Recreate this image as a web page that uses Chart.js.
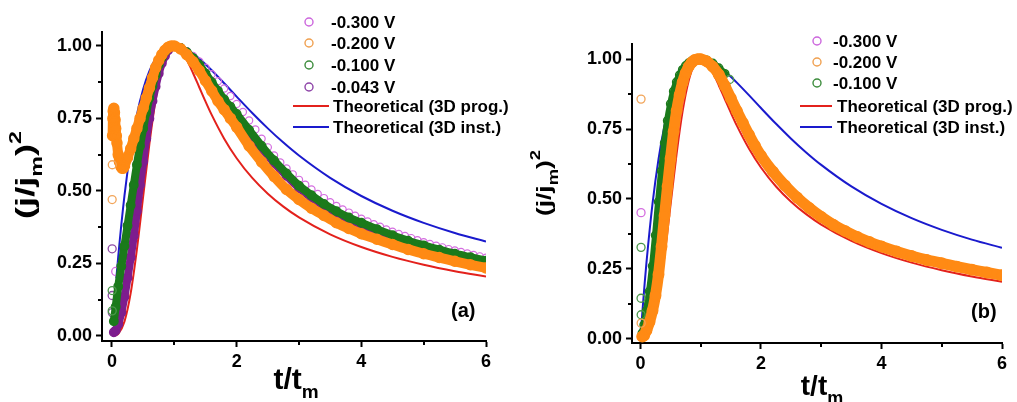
<!DOCTYPE html>
<html>
<head>
<meta charset="utf-8">
<script src="https://cdn.jsdelivr.net/npm/chart.js@4.4.1/dist/chart.umd.min.js"></script>
<style>
html,body{margin:0;padding:0;background:#fff;}
#wrap{position:relative;width:1017px;height:402px;overflow:hidden;}
#wrap canvas{position:absolute;left:0;top:0;}
</style>
</head>
<body>
<div id="wrap"><canvas id="ca" width="1017" height="402"></canvas><canvas id="cb" width="1017" height="402"></canvas></div>
<script>
// ---------------- DATA ----------------
const xTicks = [0, 2, 4, 6];
const xMinorTicks = [1, 3, 5];
const yTicks = [0, 0.25, 0.5, 0.75, 1.0];
const yMinorTicks = [0.125, 0.375, 0.625, 0.875];

const legendA = ['-0.300 V', '-0.200 V', '-0.100 V', '-0.043 V'];
const legendB = ['-0.300 V', '-0.200 V', '-0.100 V'];
const theoryLabels = ['Theoretical (3D prog.)', 'Theoretical (3D inst.)'];

// common t grids
const tRise = [0.03,0.06,0.1,0.15,0.2,0.25,0.3,0.35,0.4,0.45,0.5,0.55,0.6,0.65,0.7,0.75,0.8,0.85,0.9,0.95,1.0];
const tTail = [1.1,1.2,1.3,1.4,1.5,1.6,1.7,1.8,1.9,2.0,2.2,2.4,2.6,2.8,3.0,3.2,3.4,3.6,3.8,4.0,4.25,4.5,4.75,5.0,5.25,5.5,5.75,6.0];
const tTailFine = [1.1,1.2,1.3,1.4,1.5,1.6,1.7,1.8,1.9,2.0,2.1,2.2,2.3,2.4,2.5,2.6,2.7,2.8,2.9,3.0,3.1,3.2,3.3,3.4,3.5,3.6,3.7,3.8,3.9,4.0,4.1,4.2,4.3,4.4,4.5,4.6,4.7,4.8,4.9,5.0,5.1,5.2,5.3,5.4,5.5,5.6,5.7,5.8,5.9,6.0];

// theoretical curves
const tTheory  = [0,0.02,0.04,0.07,0.1,0.2,0.3,0.4,0.5,0.6,0.7,0.8,0.9,1.0,1.1,1.2,1.3,1.4,1.5,1.6,1.8,2.0,2.25,2.5,2.75,3.0,3.5,4.0,4.5,5.0,5.5,6.0];
const progTheory = [0,0.0001,0.0004,0.0023,0.0065,0.0488,0.147,0.298,0.4797,0.6608,0.8137,0.922,0.9821,1.0,0.9861,0.9518,0.9066,0.8574,0.8084,0.762,0.6801,0.6126,0.5446,0.4902,0.4456,0.4085,0.3501,0.3064,0.2723,0.2451,0.2228,0.2042];
const instTheory = [null,0.0602,0.1174,0.198,0.2724,0.4824,0.6423,0.7624,0.8503,0.9129,0.9554,0.9819,0.9959,1.0,0.9964,0.9872,0.9735,0.9564,0.9371,0.916,0.8712,0.8251,0.7687,0.7156,0.6664,0.6217,0.5447,0.4822,0.4312,0.3894,0.3546,0.3254];

// ---- panel (a) ----
// -0.200 V
const orangeA_isoT = [0.003, 0.005];
const orangeA_isoY = [0.47, 0.59];
const orangeA_t = [0.01,0.015,0.02,0.03,0.04,0.05,0.06,0.07,0.08,0.1,0.12,0.14,0.16,0.18,0.2,0.25,0.3,0.35,0.4,0.45,0.5,0.55,0.6,0.65,0.7,0.75,0.8,0.85,0.9,0.95,1.0];
const orangeA_rise = [0.69,0.75,0.775,0.785,0.77,0.745,0.715,0.69,0.665,0.625,0.60,0.585,0.578,0.578,0.585,0.615,0.645,0.68,0.715,0.75,0.785,0.82,0.855,0.89,0.925,0.95,0.97,0.985,0.995,1.0,1.0];
const orangeA_tail = [0.99,0.97,0.945,0.915,0.88,0.845,0.81,0.78,0.75,0.72,0.655,0.60,0.55,0.505,0.47,0.44,0.415,0.39,0.37,0.352,0.333,0.315,0.298,0.283,0.27,0.257,0.245,0.234];
// -0.100 V
const greenA_isoT = [0.003, 0.004];
const greenA_isoY = [0.156, 0.086];
const greenA_rise = [0.05,0.1,0.17,0.24,0.31,0.38,0.45,0.52,0.59,0.655,0.715,0.77,0.82,0.862,0.9,0.935,0.96,0.98,0.993,0.999,1.0];
const greenA_tail = [0.993,0.978,0.958,0.935,0.905,0.875,0.845,0.815,0.79,0.765,0.71,0.655,0.605,0.56,0.518,0.485,0.455,0.43,0.408,0.39,0.368,0.347,0.328,0.312,0.297,0.283,0.271,0.259];
// -0.043 V
const purpleA_isoT = [0.003, 0.003, 0.005];
const purpleA_isoY = [0.30, 0.139, 0.08];
const purpleA_rise = [0.012,0.018,0.04,0.08,0.135,0.2,0.27,0.345,0.43,0.52,0.6,0.68,0.75,0.81,0.86,0.905,0.94,0.965,0.985,0.997,1.0];
const purpleA_tail = [0.992,0.975,0.954,0.93,0.9,0.869,0.838,0.808,0.782,0.757,0.702,0.647,0.597,0.552,0.51,0.477,0.448,0.423,0.401,0.383,0.361,0.34,0.322,0.306,0.291,0.278,0.266,0.254];
// -0.300 V
const magentaA_isoT = [0.06];
const magentaA_isoY = [0.222];
const magentaA_t = [0.1,0.15,0.2,0.25,0.3,0.35,0.4,0.45,0.5,0.55,0.6,0.65,0.7,0.75,0.8,0.85,0.9,0.95,1.0];
const magentaA_rise = [0.17,0.245,0.315,0.385,0.455,0.525,0.595,0.66,0.72,0.775,0.825,0.868,0.905,0.94,0.965,0.983,0.995,1.0,1.0];
const magentaA_tail = [0.995,0.982,0.965,0.946,0.925,0.902,0.878,0.853,0.827,0.80,0.772,0.743,0.712,0.68,0.65,0.622,0.598,0.577,0.557,0.538,0.521,0.505,0.489,0.475,0.461,0.448,0.436,0.425,0.414,0.404,0.394,0.385,0.376,0.367,0.359,0.351,0.344,0.337,0.330,0.323,0.317,0.311,0.305,0.299,0.294,0.289,0.284,0.279,0.274,0.269];

// ---- panel (b) ----
// -0.200 V
const orangeB_isoT = [0.01, 0.012];
const orangeB_isoY = [0.857, 0.056];
const orangeB_rise = [0.008,0.012,0.03,0.06,0.1,0.155,0.23,0.33,0.44,0.545,0.645,0.74,0.815,0.872,0.917,0.95,0.973,0.988,0.997,1.0,1.0];
const orangeB_tail = [0.992,0.973,0.945,0.905,0.86,0.815,0.772,0.73,0.69,0.655,0.597,0.548,0.505,0.468,0.436,0.408,0.385,0.364,0.346,0.33,0.312,0.296,0.282,0.27,0.258,0.247,0.237,0.227];
// -0.100 V
const greenB_isoT = [0.01, 0.01, 0.012, 1.48];
const greenB_isoY = [0.327, 0.145, 0.086, 0.927];
const greenB_rise = [0.02,0.05,0.1,0.17,0.26,0.37,0.49,0.6,0.7,0.78,0.84,0.885,0.918,0.943,0.962,0.976,0.986,0.993,0.998,1.0,1.0];
const greenB_tail = [0.996,0.985,0.968,0.948];
// -0.300 V
const magentaB_isoT = [0.01];
const magentaB_isoY = [0.451];
const magentaB_rise = [0.004,0.006,0.015,0.035,0.065,0.11,0.17,0.25,0.35,0.45,0.55,0.645,0.73,0.8,0.86,0.91,0.95,0.975,0.99,0.998,1.0];
const magentaB_tail = [0.99,0.965,0.93,0.885,0.838,0.79,0.745,0.703,0.667,0.635,0.578,0.53,0.489,0.454,0.424,0.398,0.375,0.355,0.337,0.321,0.304,0.289,0.275,0.263,0.251,0.24,0.23,0.22];

// ---------------- HELPERS ----------------
const FONT = '"Liberation Sans", Arial, sans-serif';
const C = {
  red:'#e3211c', blue:'#1a1acd',
  orange:'#ff8a14', orangeLt:'#f2a55a',
  green:'#1b7a1b', greenLt:'#4b984b',
  purple:'#7d1d8e', purpleLt:'#8e4aa6',
  magenta:'#d46de0', pink:'#ff2fcf'
};
function pts(ts, ys){
  const out=[]; for(let i=0;i<ts.length;i++){ if(ys[i]!==null && ys[i]!==undefined) out.push({x:ts[i], y:ys[i]}); } return out;
}
function iso(ts, ys, color, order){
  return {data:pts(ts,ys), showLine:false, pointRadius:4, pointBorderWidth:1.3, pointBorderColor:color,
    pointBackgroundColor:'rgba(0,0,0,0)', order:order};
}
function band(ts, ys, color, w, r, order){
  return {data:pts(ts,ys), showLine:true, borderColor:color, borderWidth:w, tension:0.3,
    borderCapStyle:'round', borderJoinStyle:'round', pointRadius:r, pointBorderWidth:1.5,
    pointBorderColor:color, pointBackgroundColor:'rgba(0,0,0,0)', order:order};
}
function circles(ts, ys, color, r, order){
  return {data:pts(ts,ys), showLine:false, pointRadius:r, pointBorderWidth:1.2, pointBorderColor:color,
    pointBackgroundColor:'rgba(0,0,0,0)', order:order};
}
function theory(ts, ys, color, order){
  return {data:pts(ts,ys), showLine:true, borderColor:color, borderWidth:2, pointRadius:0,
    cubicInterpolationMode:'monotone', order:order};
}

// text / minor tick plugin
const annot = {
  id:'annot',
  afterDraw(chart, args, o){
    const ctx = chart.ctx, xs = chart.scales.x, ys = chart.scales.y, ca = chart.chartArea;
    ctx.save();
    ctx.strokeStyle = '#000'; ctx.lineWidth = 2;
    xMinorTicks.forEach(v=>{ const p = Math.round(xs.getPixelForValue(v)); ctx.beginPath(); ctx.moveTo(p, ca.bottom); ctx.lineTo(p, ca.bottom+4); ctx.stroke(); });
    yMinorTicks.forEach(v=>{ const p = Math.round(ys.getPixelForValue(v)); ctx.beginPath(); ctx.moveTo(ca.left, p); ctx.lineTo(ca.left-4, p); ctx.stroke(); });
    ctx.fillStyle = '#000';
    ctx.textBaseline = 'alphabetic'; ctx.textAlign = 'left';
    // x title  t/t_m
    const xt = o.xTitle;
    ctx.font = 'bold '+xt.size+'px '+FONT; const w1 = ctx.measureText('t/t').width;
    ctx.font = 'bold '+xt.sub+'px '+FONT; const w2 = ctx.measureText('m').width;
    let x0 = xt.cx - (w1+w2)/2;
    ctx.font = 'bold '+xt.size+'px '+FONT; ctx.fillText('t/t', x0, xt.base);
    ctx.font = 'bold '+xt.sub+'px '+FONT; ctx.fillText('m', x0+w1, xt.base+xt.subDy);
    // y title (j/j_m)^2
    const yt = o.yTitle;
    const parts = [{t:'(j/j', s:yt.size, dy:0},{t:'m', s:yt.sub, dy:yt.subDy},{t:')', s:yt.size, dy:0},{t:'2', s:yt.sub, dy:yt.supDy}];
    let tw = 0; parts.forEach(p=>{ ctx.font='bold '+p.s+'px '+FONT; p.w = ctx.measureText(p.t).width; tw += p.w; });
    ctx.save();
    ctx.translate(yt.bx, yt.cy); ctx.rotate(-Math.PI/2); ctx.scale(yt.len/tw, 1);
    let px = -tw/2;
    parts.forEach(p=>{ ctx.font='bold '+p.s+'px '+FONT; ctx.fillText(p.t, px, p.dy); px += p.w; });
    ctx.restore();
    // panel label
    ctx.font = 'bold '+o.panel.size+'px '+FONT; ctx.fillText(o.panel.text, o.panel.x, o.panel.y);
    // legend
    ctx.font = 'bold 17px '+FONT; ctx.textBaseline = 'middle';
    o.legend.forEach(it=>{
      if(it.kind==='pt'){
        ctx.strokeStyle = it.color; ctx.lineWidth = 1.4;
        ctx.beginPath(); ctx.arc(it.mx, it.y, 4, 0, Math.PI*2); ctx.stroke();
      } else {
        ctx.strokeStyle = it.color; ctx.lineWidth = 2;
        ctx.beginPath(); ctx.moveTo(it.mx, it.y); ctx.lineTo(it.mx2, it.y); ctx.stroke();
      }
      ctx.fillStyle = '#000'; ctx.fillText(it.text, it.tx, it.y+1);
    });
    ctx.restore();
  }
};

function makeChart(id, datasets, geo, annotOpts){
  const tickFont = {family:FONT, size:18, weight:'bold'};
  return new Chart(document.getElementById(id), {
    type:'scatter',
    data:{datasets:datasets},
    options:{
      responsive:false, animation:false, devicePixelRatio:1,
      layout:{padding:{left:geo.padL, right:geo.padR, top:geo.padT, bottom:0}},
      plugins:{legend:{display:false}, tooltip:{enabled:false}, annot:annotOpts},
      events:[],
      scales:{
        x:{type:'linear', min:geo.xmin, max:6,
          afterBuildTicks:s=>{ s.ticks = xTicks.map(v=>({value:v})); },
          afterFit:s=>{ s.height = geo.xh; },
          ticks:{font:tickFont, color:'#000', padding:4, maxRotation:0, autoSkip:false, callback:v=>String(v)},
          grid:{drawOnChartArea:false, drawTicks:true, tickLength:6, tickWidth:2, tickColor:'#000'},
          border:{display:true, color:'#000', width:2}},
        y:{type:'linear', min:geo.ymin, max:geo.ymax,
          afterBuildTicks:s=>{ s.ticks = yTicks.map(v=>({value:v})); },
          afterFit:s=>{ s.width = geo.yw; },
          ticks:{font:tickFont, color:'#000', padding:4, autoSkip:false, callback:v=>Number(v).toFixed(2)},
          grid:{drawOnChartArea:false, drawTicks:true, tickLength:6, tickWidth:2, tickColor:'#000'},
          border:{display:true, color:'#000', width:2}}
      }
    },
    plugins:[annot]
  });
}

// ---------------- PANEL (a) ----------------
const dsA = [
  iso(orangeA_isoT, orangeA_isoY, C.orangeLt, 1),
  band(orangeA_t.concat(tTail), orangeA_rise.concat(orangeA_tail), C.orange, 10, 5, 2),
  iso(greenA_isoT, greenA_isoY, C.greenLt, 3),
  band(tRise.concat(tTail), greenA_rise.concat(greenA_tail), C.green, 8, 4.2, 4),
  iso(purpleA_isoT, purpleA_isoY, C.purpleLt, 5),
  band(tRise.concat(tTail), purpleA_rise.concat(purpleA_tail), C.purple, 8, 4.2, 6),
  iso(magentaA_isoT, magentaA_isoY, C.magenta, 7),
  circles(magentaA_t.concat(tTailFine), magentaA_rise.concat(magentaA_tail), C.magenta, 3.6, 8),
  theory(tTheory, progTheory, C.red, 9),
  theory(tTheory.slice(3), instTheory.slice(3), C.blue, 10)
];
makeChart('ca', dsA,
  {padL:0, padR:1017-486, padT:32, xh:402-341, yw:102, xmin:-0.16, ymin:-0.018, ymax:1.048},
  {
    xTitle:{cx:296, base:389, size:30, sub:19, subDy:9},
    yTitle:{bx:34, cy:175, size:25, sub:16, subDy:8, supDy:-13, len:88},
    panel:{text:'(a)', x:451, y:317, size:20},
    legend:[
      {kind:'pt', color:'#cc66dd', mx:309, y:22, tx:331, text:legendA[0]},
      {kind:'pt', color:'#f0a050', mx:309, y:43, tx:331, text:legendA[1]},
      {kind:'pt', color:'#3c8c3c', mx:309, y:65, tx:331, text:legendA[2]},
      {kind:'pt', color:'#8e44a8', mx:309, y:87, tx:331, text:legendA[3]},
      {kind:'line', color:C.red, mx:293, mx2:329, y:106, tx:333, text:theoryLabels[0]},
      {kind:'line', color:C.blue, mx:293, mx2:329, y:127, tx:333, text:theoryLabels[1]}
    ]
  });

// ---------------- PANEL (b) ----------------
const dsB = [
  iso(orangeB_isoT, orangeB_isoY, C.orangeLt, 1),
  band(tRise.concat(tTail), orangeB_rise.concat(orangeB_tail), C.orange, 11, 5.2, 2),
  iso(greenB_isoT, greenB_isoY, C.greenLt, 3),
  band(tRise.concat(tTail.slice(0,4)), greenB_rise.concat(greenB_tail), C.green, 7, 4, 4),
  iso(magentaB_isoT, magentaB_isoY, C.magenta, 5),
  {data:pts(tRise.concat(tTail), magentaB_rise.concat(magentaB_tail)), showLine:true, borderColor:C.pink, borderWidth:3.5, tension:0.3, pointRadius:0, order:6},
  theory(tTheory, progTheory, C.red, 9),
  theory(tTheory.slice(1), instTheory.slice(1), C.blue, 10)
];
makeChart('cb', dsB,
  {padL:632-100, padR:1017-1002, padT:44, xh:402-343, yw:100, xmin:-0.14, ymin:-0.015, ymax:1.054},
  {
    xTitle:{cx:822, base:395, size:28, sub:18, subDy:9},
    yTitle:{bx:551, cy:183, size:20, sub:14, subDy:7, supDy:-11, len:66},
    panel:{text:'(b)', x:971, y:318, size:20},
    legend:[
      {kind:'pt', color:'#cc66dd', mx:817, y:41, tx:833, text:legendB[0]},
      {kind:'pt', color:'#f0a050', mx:817, y:62, tx:833, text:legendB[1]},
      {kind:'pt', color:'#3c8c3c', mx:817, y:83, tx:833, text:legendB[2]},
      {kind:'line', color:C.red, mx:800, mx2:832, y:106, tx:837, text:theoryLabels[0]},
      {kind:'line', color:C.blue, mx:800, mx2:832, y:127, tx:837, text:theoryLabels[1]}
    ]
  });
</script>
</body>
</html>
